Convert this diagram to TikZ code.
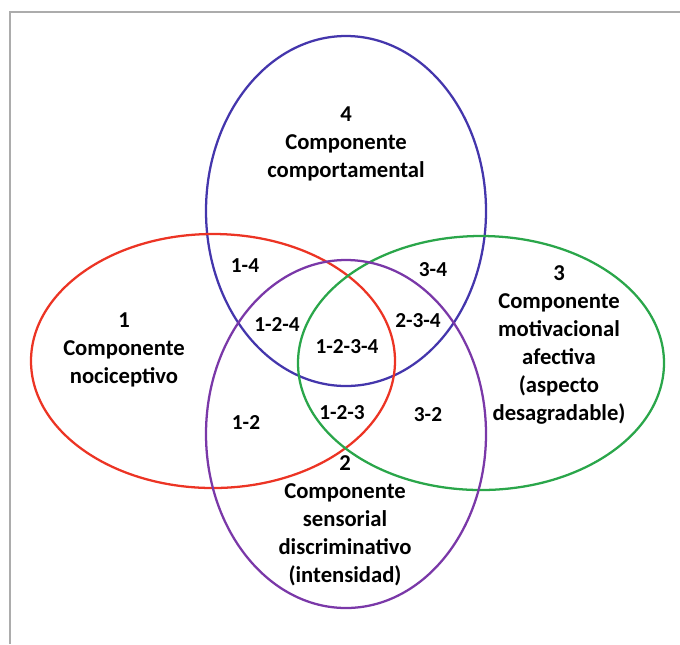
\documentclass[tikz,border=0pt]{standalone}
\usepackage{fontspec}
\setmainfont{Carlito}
\usepackage{tikz}
\definecolor{ringred}{RGB}{236,52,36}
\definecolor{ringblue}{RGB}{68,54,172}
\definecolor{ringgreen}{RGB}{42,166,74}
\definecolor{ringpurple}{RGB}{122,56,168}
\definecolor{framegray}{RGB}{172,172,172}
\tikzset{
	ring/.style={line width=1.7pt},
	frame/.style={framegray, line width=1pt},
	title/.style={align=center, inner sep=0pt, font=\bfseries\fontsize{17}{21}\selectfont},
	tag/.style={inner sep=0pt, font=\bfseries\fontsize{16}{18}\selectfont},
}

\begin{document}
\begin{tikzpicture}[x=0.75pt, y=-0.75pt]
	\useasboundingbox (0,0) rectangle (680,644);
	
	% Frame
	\draw[frame] (10,644) -- (10,12) -- (680,12);
	
	% Components
	\draw[ring, ringblue] (346,211) ellipse [x radius=140, y radius=175];
	\draw[ring, ringred] (213,361) ellipse [x radius=182, y radius=127];
	\draw[ring, ringgreen] (481,363) ellipse [x radius=183, y radius=127];
	\draw[ring, ringpurple] (346,434) ellipse [x radius=140, y radius=174];
	
	% Titles
	\node[title] (c4) at (346,144) {4\\Componente\\comportamental};
	\node[title] (c1) at (124,350) {1\\Componente\\nociceptivo};
	\node[title] (c3) at (559,345) {3\\Componente\\motivacional\\afectiva\\(aspecto\\desagradable)};
	\node[title] (c2) at (345,521) {2\\Componente\\sensorial\\discriminativo\\(intensidad)};
	
	% Overlaps
	\node[tag] (o14) at (245,266) {1-4};
	\node[tag] (o34) at (433,270) {3-4};
	\node[tag] (o124) at (277,324) {1-2-4};
	\node[tag] (o234) at (418,321) {2-3-4};
	\node[tag] (o1234) at (347,347) {1-2-3-4};
	\node[tag] (o12) at (246,422) {1-2};
	\node[tag] (o123) at (342,413) {1-2-3};
	\node[tag] (o32) at (428,415) {3-2};
\end{tikzpicture}
\end{document}
